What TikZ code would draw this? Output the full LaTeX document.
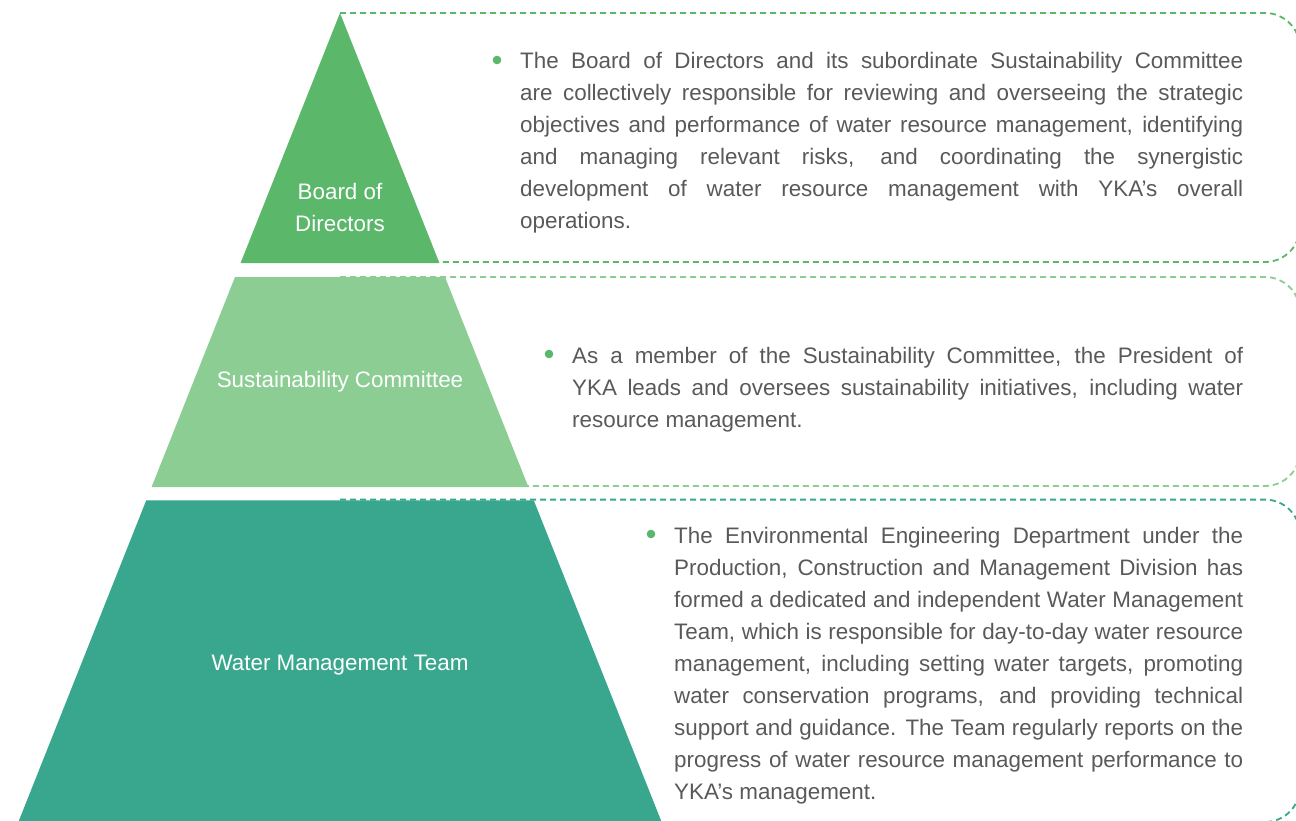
\documentclass[tikz,border=0pt]{standalone}
\usepackage{fontspec}
\setmainfont{Liberation Sans}
\definecolor{gA}{RGB}{91,183,106}
\definecolor{gB}{RGB}{140,205,148}
\definecolor{gC}{RGB}{56,167,142}
\definecolor{txt}{RGB}{89,89,89}
\newcommand{\jl}[1]{\makebox[\linewidth][s]{#1}\\}
\newcommand{\tf}{\fontsize{22.4}{32}\selectfont}
\begin{document}
\begin{tikzpicture}[x=1pt,y=-1pt,
  dbox/.style={line width=1.8pt,dash pattern=on 6pt off 4pt,rounded corners=35pt},
  lbl/.style={text=white,font=\tf,align=center,inner sep=0pt},
  para/.style={anchor=base west,inner sep=0pt,text=txt},
  bul/.style={fill=gA}]
\useasboundingbox (0,0) rectangle (1296,821);
\begin{scope}
\clip (0,0) rectangle (1296,821);
% dashed frames
\draw[dbox,gA] (340,13) -- (1300,13) -- (1300,262) -- (340,262);
\draw[dbox,gB] (340,277) -- (1300,277) -- (1300,486) -- (340,486);
\draw[dbox,gC] (340,499.6) -- (1300,499.6) -- (1300,822) -- (340,822);
% pyramid
\fill[gA] (340,13) -- (439.4,263) -- (240.6,263) -- cycle;
\fill[gB] (235,277) -- (445,277) -- (528.4,487) -- (151.6,487) -- cycle;
\fill[gC] (146.2,500.4) -- (533.8,500.4) -- (664.8,830) -- (15.2,830) -- cycle;
\end{scope}
\node[lbl] (board) at (340,207) {Board of\\Directors};
\node[lbl] (sust) at (340,382) {Sustainability Committee};
\node[lbl] (water) at (340,665) {Water Management Team};
% bullets
\fill[bul] (497,60) circle (4.3);
\fill[bul] (549,354) circle (4.3);
\fill[bul] (651,534) circle (4.3);
% texts
\node[para] (t1) at (520,69) {\parbox[t]{723pt}{\tf
\jl{The Board of Directors and its subordinate Sustainability Committee}
\jl{are collectively responsible for reviewing and overseeing the strategic}
\jl{objectives and performance of water resource management, identifying}
\jl{and managing relevant risks, and coordinating the synergistic}
\jl{development of water resource management with YKA’s overall}
operations.}};
\node[para] (t2) at (572,363) {\parbox[t]{671pt}{\tf
\jl{As a member of the Sustainability Committee, the President of}
\jl{YKA leads and oversees sustainability initiatives, including water}
resource management.}};
\node[para] (t3) at (674,543) {\parbox[t]{569pt}{\tf
\jl{The Environmental Engineering Department under the}
\jl{Production, Construction and Management Division has}
\jl{formed a dedicated and independent Water Management}
\jl{Team, which is responsible for day-to-day water resource}
\jl{management, including setting water targets, promoting}
\jl{water conservation programs, and providing technical}
\jl{support and guidance. The Team regularly reports on the}
\jl{progress of water resource management performance to}
YKA’s management.}};
\end{tikzpicture}
\end{document}
